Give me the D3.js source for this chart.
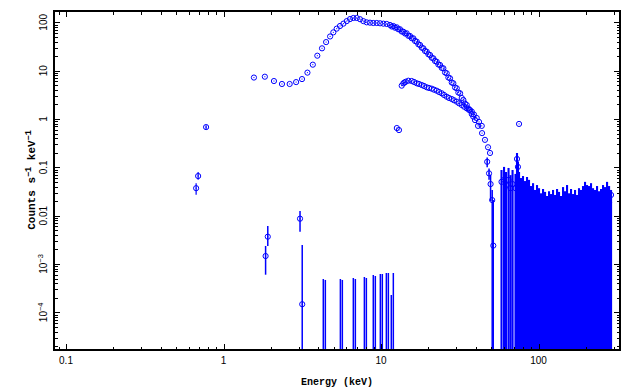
<!DOCTYPE html>
<html>
<head>
<meta charset="utf-8">
<script src="https://cdn.jsdelivr.net/npm/d3@7"></script>
<style>
  body { margin: 0; background: #fff; }
</style>
</head>
<body>
<div id="chart"></div>
<script>
// axis limits and ticks
var xRange = [0.0839, 329];
var yRange = [1.66e-5, 171.6];
var xMajor = [0.1, 1, 10, 100];
var xTickLabels = ["0.1", "1", "10", "100"];
var yMajor = [1e-4, 1e-3, 0.01, 0.1, 1, 10, 100];
var yTickLabels = [["10", "\u22124"], ["10", "\u22123"], ["0.01"], ["0.1"], ["1"], ["10"], ["100"]];

// soft points below 1 keV (with error bars)
var lowE  = [0.67, 0.69, 0.775];
var lowY  = [0.037, 0.066, 0.68];
var lowLo = [0.027, 0.055, 0.62];
var lowHi = [0.047, 0.080, 0.74];

// main spectrum
var mainE = [1.56, 1.83, 2.09, 2.35, 2.63, 2.89, 3.15, 3.41, 3.69, 3.94, 4.22, 4.48, 4.75, 4.98, 5.23, 5.49,
  5.77, 6.06, 6.36, 6.67, 7.01, 7.36, 7.72, 8.11, 8.51, 8.93, 9.39, 9.86, 10.35, 10.87, 11.40, 11.70, 11.97,
  12.27, 12.58, 12.88, 13.20, 13.53, 13.86, 14.20, 14.55, 14.91, 15.28, 15.66, 16.04, 16.44, 16.86, 17.26,
  17.69, 18.13, 18.57, 19.03, 19.50, 19.98, 20.47, 20.99, 21.49, 22.03, 22.57, 23.12, 23.70, 24.29, 24.87,
  25.49, 26.12, 26.76, 27.42, 28.11, 28.78, 29.51, 30.26, 30.97, 31.77, 32.53, 33.34, 34.14, 35.0, 35.83,
  36.7, 37.64, 38.5, 39.5, 41.3, 43.8, 45.7, 47.8, 49.2];
var mainY = [7.2, 7.5, 6.1, 5.3, 5.3, 5.8, 6.7, 9.1, 13.3, 20.4, 29, 39, 51, 62, 74, 84,
  94, 106, 117, 123, 123, 116, 106, 100, 98.4, 96.9, 96.9, 95.5, 93.8, 92.5, 88.1, 82.0, 84.0,
  77.4, 78.9, 71.8, 71.8, 64.6, 64.0, 58.7, 59.3, 52.6, 52.1, 47.0, 46.7, 41.1, 39.8, 35.1,
  34.0, 29.9, 29.0, 25.5, 24.7, 21.8, 21.1, 18.5, 18.0, 15.8, 15.3, 13.4, 13.1, 11.4, 11.2,
  9.17, 8.83, 7.22, 6.95, 5.69, 5.48, 4.49, 4.32, 3.53, 3.40, 2.72, 2.47, 2.09, 1.95, 1.65,
  1.54, 1.27, 1.12, 0.95, 0.72, 0.51, 0.37, 0.26, 0.198];

// tail of main spectrum (error bars)
var tailE  = [47.2, 48.5, 49.6, 50.8, 51.6];
var tailY  = [0.13, 0.075, 0.045, 0.021, 0.0024];
var tailLo = [0.10, 0.055, 0.02, 0, 0];
var tailHi = [0.16, 0.095, 0.07, 0.034, 0.021];

// second (hard) spectrum
var hardE = [13.53, 13.86, 14.10, 14.35, 14.91, 15.66, 16.21, 16.86, 17.42, 18.13, 18.75, 19.50, 20.17,
  20.99, 21.71, 22.57, 23.36, 24.29, 25.12, 26.12, 27.03, 28.11, 29.07, 30.26, 31.28, 32.53, 33.65,
  35.0, 36.2, 37.7, 38.9, 40.5, 41.9, 43.6];
var hardY = [4.89, 5.48, 5.69, 5.91, 6.20, 6.11, 5.83, 5.48, 5.30, 5.05, 4.82, 4.53, 4.38,
  4.24, 4.04, 3.85, 3.62, 3.40, 3.14, 2.89, 2.72, 2.59, 2.44, 2.28, 2.11, 1.95, 1.80,
  1.66, 1.54, 1.42, 1.24, 1.05, 0.87, 0.72];

// isolated points
var oddE = [12.6, 13.0, 75.2];
var oddY = [0.65, 0.59, 0.79];

// weak points 1.8-3.2 keV
var midE  = [1.85, 1.91, 3.06, 3.16];
var midY  = [1.46e-3, 3.67e-3, 8.65e-3, 1.47e-4];
var midLo = [6.0e-4, 2.36e-3, 4.66e-3, 0];
var midHi = [2.36e-3, 6.1e-3, 0.0125, 2.47e-3];

// upper limits 4-12 keV (values at zero)
var ulE  = [4.30, 4.43, 5.52, 5.68, 6.67, 6.87, 7.84, 8.07, 8.93, 9.20, 9.90, 10.19, 10.81, 11.13, 11.62, 11.97];
var ulHi = [4.89e-4, 4.67e-4, 4.89e-4, 4.67e-4, 5.13e-4, 4.89e-4, 5.38e-4, 5.13e-4, 5.91e-4, 5.64e-4,
  6.21e-4, 6.21e-4, 6.51e-4, 6.51e-4, 2.28e-4, 6.51e-4];

// hard X-ray noise, 58-290 keV
var noiseE = [58.2, 60.4, 62.2, 64.5, 66.4, 68.4, 71.4, 73.0, 74.0, 75.2, 77.4, 79.7, 82.1, 84.5, 87.0, 89.6,
  92.3, 95.0, 97.8, 100.7, 103.7, 106.8, 110.0, 113.2, 116.6, 120.1, 123.6, 127.3, 131.1, 134.9,
  139.0, 143.1, 147.3, 151.7, 156.2, 160.8, 165.6, 170.5, 175.5, 180.7, 186.1, 191.6, 197.3,
  203.2, 209.2, 215.4, 221.8, 228.4, 235.2, 242.2, 249.4, 256.8, 264.4, 272.3, 280.4, 288.7];
var noiseY = [0.050, 0.055, 0.043, 0.055, 0.037, 0.045, 0.037, 0.149, 0.102, 0.041, 0.031, 0.034, 0.027, 0.031, 0.0255, 0.021,
  0.023, 0.0174, 0.021, 0.019, 0.0144, 0.0174, 0.0158, 0.0131, 0.0158, 0.0144, 0.0174, 0.0131, 0.0174, 0.0158,
  0.0119, 0.019, 0.0158, 0.021, 0.0144, 0.0174, 0.0131, 0.0166, 0.0131, 0.018, 0.0166, 0.020, 0.023,
  0.021, 0.019, 0.022, 0.018, 0.0158, 0.019, 0.0158, 0.0174, 0.021, 0.018, 0.023, 0.019, 0.0268];
var noiseHi = [0.088, 0.102, 0.080, 0.097, 0.069, 0.088, 0.073, 0.198, 0.13, 0.080, 0.060, 0.066, 0.052, 0.063, 0.055, 0.041,
  0.047, 0.034, 0.043, 0.037, 0.029, 0.0356, 0.031, 0.0255, 0.032, 0.028, 0.034, 0.0268, 0.0356, 0.031,
  0.0255, 0.039, 0.032, 0.043, 0.029, 0.0356, 0.028, 0.034, 0.0268, 0.037, 0.034, 0.041, 0.050,
  0.043, 0.041, 0.047, 0.037, 0.034, 0.041, 0.032, 0.0356, 0.043, 0.039, 0.050, 0.041, 0.034];

var blue = "#0000ff";

var svgWidth = 629;
var svgHeight = 392;
var margin = {top: 11, right: 9, bottom: 42, left: 54};
var chartWidth = svgWidth - margin.left - margin.right;
var chartHeight = svgHeight - margin.top - margin.bottom;

var svg = d3.select("#chart")
  .append("svg")
  .attr("width", svgWidth)
  .attr("height", svgHeight)
  .style("background", "#fff");

var chartGroup = svg.append("g")
  .attr("transform", `translate(${margin.left}, ${margin.top})`);

var xScale = d3.scaleLog().domain(xRange).range([0, chartWidth]);
var yScale = d3.scaleLog().domain(yRange).range([chartHeight, 0]);

chartGroup.append("clipPath").attr("id", "clip")
  .append("rect").attr("width", chartWidth).attr("height", chartHeight);

var dataGroup = chartGroup.append("g").attr("clip-path", "url(#clip)");

function errBars(E, lo, hi, width) {
  dataGroup.append("g").selectAll("line")
    .data(E)
    .join("line")
    .attr("x1", d => xScale(d))
    .attr("x2", d => xScale(d))
    .attr("y1", (d, i) => yScale(hi[i]))
    .attr("y2", (d, i) => lo[i] > 0 ? yScale(lo[i]) : chartHeight + 2)
    .attr("stroke", blue)
    .attr("stroke-width", width);
}

function markers(E, Y) {
  var g = dataGroup.append("g");
  g.selectAll("circle")
    .data(E)
    .join("circle")
    .attr("cx", d => xScale(d))
    .attr("cy", (d, i) => yScale(Y[i]))
    .attr("r", 2.6)
    .attr("fill", "none")
    .attr("stroke", blue)
    .attr("stroke-width", 1);
  g.selectAll("rect")
    .data(E)
    .join("rect")
    .attr("x", d => xScale(d) - 0.5)
    .attr("y", (d, i) => yScale(Y[i]) - 0.5)
    .attr("width", 1)
    .attr("height", 1)
    .attr("fill", blue);
}

errBars(noiseE, noiseE.map(() => 0), noiseHi, 2.1);
markers(noiseE, noiseY);
errBars(ulE, ulE.map(() => 0), ulHi, 1.5);
errBars(midE, midLo, midHi, 1.5);
markers(midE, midY);
errBars(lowE, lowLo, lowHi, 1.2);
markers(lowE, lowY);
errBars(tailE, tailLo, tailHi, 1.5);
markers(tailE, tailY);
markers(mainE, mainY);
markers(hardE, hardY);
markers(oddE, oddY);

// minor ticks
var xMinor = [];
[0.01, 0.1, 1, 10, 100].forEach(function(d) {
  for (var k = 2; k < 10; k++) {
    var v = d * k;
    if (v >= xRange[0] && v <= xRange[1]) xMinor.push(v);
  }
});
var yMinor = [];
[1e-5, 1e-4, 1e-3, 0.01, 0.1, 1, 10, 100].forEach(function(d) {
  for (var k = 2; k < 10; k++) {
    var v = d * k;
    if (v >= yRange[0] && v <= yRange[1]) yMinor.push(v);
  }
});

function addAxis(axisFn, scale, values, size, transform) {
  var g = chartGroup.append("g")
    .attr("transform", transform)
    .call(axisFn(scale).tickValues(values).tickSize(size).tickSizeOuter(0).tickFormat(""));
  g.select(".domain").remove();
  g.selectAll("line").attr("stroke", "#000").attr("shape-rendering", "crispEdges");
  return g;
}

addAxis(d3.axisBottom, xScale, xMajor, -6, `translate(0, ${chartHeight})`);
addAxis(d3.axisBottom, xScale, xMinor, -3.5, `translate(0, ${chartHeight})`);
addAxis(d3.axisTop, xScale, xMajor, -6, "translate(0, 0)");
addAxis(d3.axisTop, xScale, xMinor, -3.5, "translate(0, 0)");
addAxis(d3.axisLeft, yScale, yMajor, -6, "translate(0, 0)");
addAxis(d3.axisLeft, yScale, yMinor, -3.5, "translate(0, 0)");
addAxis(d3.axisRight, yScale, yMajor, -6, `translate(${chartWidth}, 0)`);
addAxis(d3.axisRight, yScale, yMinor, -3.5, `translate(${chartWidth}, 0)`);

chartGroup.append("rect")
  .attr("width", chartWidth)
  .attr("height", chartHeight)
  .attr("fill", "none")
  .attr("stroke", "#000")
  .attr("stroke-width", 1.2)
  .attr("shape-rendering", "crispEdges");

// x tick labels
chartGroup.append("g").selectAll("text")
  .data(xMajor)
  .join("text")
  .attr("x", d => xScale(d))
  .attr("y", chartHeight + 13.5)
  .attr("text-anchor", "middle")
  .style("font-family", "'Liberation Sans', Arial, sans-serif")
  .style("font-size", "10px")
  .text((d, i) => xTickLabels[i]);

// y tick labels (rotated)
var yLab = chartGroup.append("g").selectAll("text")
  .data(yMajor)
  .join("text")
  .attr("transform", d => `translate(-7, ${yScale(d)}) rotate(-90)`)
  .attr("text-anchor", "middle")
  .style("font-family", "'Liberation Sans', Arial, sans-serif")
  .style("font-size", "10px");
yLab.each(function(d, i) {
  var t = d3.select(this);
  var parts = yTickLabels[i];
  t.append("tspan").text(parts[0]);
  if (parts.length > 1) {
    t.append("tspan").attr("dy", -4).style("font-size", "7.5px").text(parts[1]);
  }
});

// axis titles
svg.append("text")
  .attr("x", 337)
  .attr("y", 385)
  .attr("text-anchor", "middle")
  .style("font-family", "'Liberation Mono', 'Courier New', monospace")
  .style("font-size", "10px")
  .style("font-weight", "bold")
  .text("Energy (keV)");

var yTitle = svg.append("text")
  .attr("transform", "translate(35, 180) rotate(-90)")
  .attr("text-anchor", "middle")
  .style("font-family", "'Liberation Mono', 'Courier New', monospace")
  .style("font-size", "11px")
  .style("font-weight", "bold");
yTitle.append("tspan").text("Counts s");
yTitle.append("tspan").attr("dy", -4).style("font-size", "8.5px").text("\u22121");
yTitle.append("tspan").attr("dy", 4).text(" keV");
yTitle.append("tspan").attr("dy", -4).style("font-size", "8.5px").text("\u22121");
</script>
</body>
</html>
